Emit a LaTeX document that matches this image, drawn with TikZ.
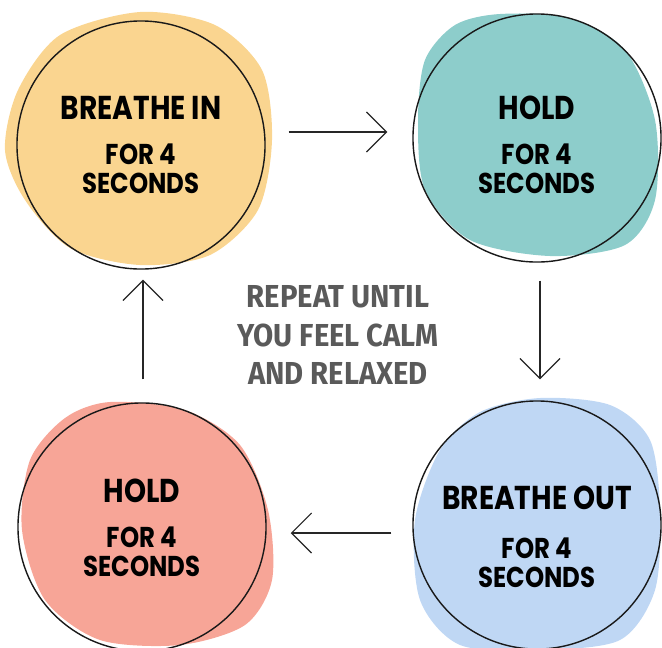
\documentclass[tikz,border=0pt]{standalone}
\usepackage{fontspec}
\usetikzlibrary{arrows.meta}
\newfontfamily\boxfont[FakeStretch=0.85]{Poppins}
\newfontfamily\notefont[FakeStretch=0.92]{Fira Sans}
\definecolor{inyel}{HTML}{FAD590}
\definecolor{holdteal}{HTML}{8DCDCB}
\definecolor{outblue}{HTML}{BFD7F4}
\definecolor{holdpink}{HTML}{F7A597}
\definecolor{notegray}{HTML}{5A5A5A}
\newcommand{\headline}[1]{{\fontsize{23.5}{20.6}\selectfont #1}}
\begin{document}
\begin{tikzpicture}[x=0.025cm, y=-0.025cm,
  ring/.style={draw=black!90, line width=1pt, circle, minimum size=6.2cm, inner sep=0pt},
  caption/.style={align=center, inner sep=0pt, font=\boxfont\bfseries\fontsize{20.4}{20.6}\selectfont},
  arr/.style={draw=black!85, line width=0.8pt, -{Straight Barb[length=0.5cm, width=1cm, line width=0.8pt]}}]
\useasboundingbox (0,0) rectangle (662,647);
% colour blobs behind the rings
\fill[inyel] plot[smooth cycle] coordinates {(140,12) (215,25) (262,70) (272,140) (258,210) (210,255) (140,265) (70,248) (25,200) (5,150) (18,90) (60,35)};
\fill[holdteal] plot[smooth cycle] coordinates {(500,14) (570,18) (625,50) (655,120) (655,200) (625,245) (550,256) (470,240) (425,190) (418,120) (425,60) (455,25)};
\fill[holdpink] plot[smooth cycle] coordinates {(110,402) (185,410) (240,445) (268,510) (272,580) (245,625) (180,645) (100,640) (45,600) (22,530) (30,460) (65,418)};
\fill[outblue] plot[smooth cycle] coordinates {(540,398) (610,405) (650,440) (660,510) (655,590) (620,640) (540,650) (460,645) (420,600) (415,520) (440,450) (480,412)};
% rings
\node[ring] (inhale) at (141,145) {};
\node[ring] (hold1) at (537,138) {};
\node[ring] (exhale) at (537,525) {};
\node[ring] (hold2) at (142,527) {};
\node[caption] (inhaletxt) at ([yshift=0]inhale) {\headline{BREATHE IN}\\[11.5pt] FOR 4\\ SECONDS};
\node[caption] (hold1txt) at ([shift={(0,7)}]hold1) {\headline{HOLD}\\[11.5pt] FOR 4\\ SECONDS};
\node[caption] (exhaletxt) at ([shift={(0,12)}]exhale) {\headline{BREATHE OUT}\\[14pt] FOR 4\\ SECONDS};
\node[caption] (hold2txt) at ([shift={(0,1)}]hold2) {\headline{HOLD}\\[11.5pt] FOR 4\\ SECONDS};
\node[font=\notefont\bfseries\fontsize{22.6}{27.7}\selectfont, text=notegray, align=center] (note) at (338,335) {REPEAT UNTIL\\ YOU FEEL CALM\\ AND RELAXED};
% cycle
\draw[arr] ([shift={(23,-13)}]inhale.east) -- ([shift={(-25,-6)}]hold1.west);
\draw[arr] ([shift={(3,18)}]hold1.south) -- ([shift={(3,-21)}]exhale.north);
\draw[arr] ([shift={(-21,8)}]exhale.west) -- ([shift={(24,6)}]hold2.east);
\draw[arr] ([shift={(1,-23)}]hold2.north) -- ([shift={(2,10)}]inhale.south);
\end{tikzpicture}
\end{document}
